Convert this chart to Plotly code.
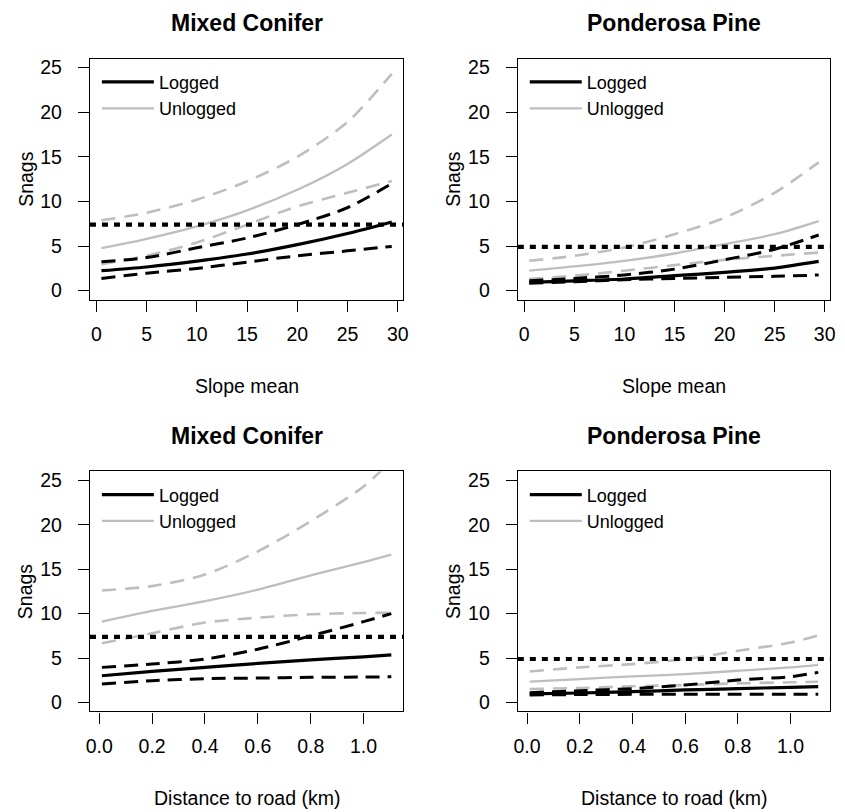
import plotly.graph_objects as go

# ---------------- data ----------------
slope_x = [0.5, 5, 10, 15, 20, 25, 29.4]
dist_x = [0.01, 0.2, 0.4, 0.6, 0.8, 1.0, 1.105]

# Mixed Conifer - slope
mc_slope_log_mean = [2.23, 2.65, 3.3, 4.1, 5.15, 6.4, 7.7]
mc_slope_log_lo = [1.37, 1.95, 2.49, 3.2, 3.9, 4.46, 4.95]
mc_slope_log_hi = [3.23, 3.7, 4.8, 5.9, 7.4, 9.3, 12.0]
mc_slope_unl_mean = [4.75, 5.8, 7.2, 9.0, 11.3, 14.2, 17.5]
mc_slope_unl_lo = [2.97, 3.9, 5.39, 7.4, 9.45, 10.96, 12.3]
mc_slope_unl_hi = [7.88, 8.73, 10.2, 12.26, 15.0, 18.9, 24.3]

# Ponderosa Pine - slope
pp_slope_log_mean = [0.93, 1.1, 1.3, 1.67, 2.04, 2.53, 3.27]
pp_slope_log_lo = [0.82, 1.0, 1.22, 1.37, 1.49, 1.6, 1.75]
pp_slope_log_hi = [1.1, 1.37, 1.75, 2.41, 3.45, 4.64, 6.24]
pp_slope_unl_mean = [2.23, 2.71, 3.34, 4.16, 5.2, 6.32, 7.8]
pp_slope_unl_lo = [1.3, 1.67, 2.23, 2.86, 3.45, 3.9, 4.27]
pp_slope_unl_hi = [3.34, 3.9, 4.83, 6.32, 8.17, 10.96, 14.38]

# Mixed Conifer - distance to road
mc_dist_log_mean = [3.02, 3.5, 3.96, 4.4, 4.81, 5.15, 5.37]
mc_dist_log_lo = [2.09, 2.46, 2.69, 2.76, 2.84, 2.87, 2.91]
mc_dist_log_hi = [3.96, 4.33, 4.89, 6.0, 7.5, 9.1, 10.0]
mc_dist_unl_mean = [9.1, 10.3, 11.4, 12.7, 14.3, 15.8, 16.64]
mc_dist_unl_lo = [6.68, 7.8, 9.0, 9.55, 9.93, 10.07, 10.11]
mc_dist_unl_hi = [12.6, 13.1, 14.4, 17.0, 20.4, 24.3, 27.2]

# Ponderosa Pine - distance to road
pp_dist_log_mean = [0.97, 1.08, 1.23, 1.42, 1.57, 1.72, 1.79]
pp_dist_log_lo = [0.86, 0.9, 0.93, 0.93, 0.93, 0.93, 0.93]
pp_dist_log_hi = [1.12, 1.34, 1.57, 1.98, 2.54, 2.91, 3.4]
pp_dist_unl_mean = [2.35, 2.65, 2.95, 3.2, 3.58, 3.96, 4.25]
pp_dist_unl_lo = [1.53, 1.64, 1.83, 1.98, 2.16, 2.28, 2.35]
pp_dist_unl_hi = [3.5, 3.96, 4.33, 4.89, 5.82, 6.75, 7.57]

mc_threshold = 7.4
pp_threshold = 4.9

panel_titles = ["Mixed Conifer", "Ponderosa Pine", "Mixed Conifer", "Ponderosa Pine"]
x_titles = ["Slope mean", "Slope mean", "Distance to road (km)", "Distance to road (km)"]
y_title = "Snags"
slope_ticks = [0, 5, 10, 15, 20, 25, 30]
dist_ticks = [0.0, 0.2, 0.4, 0.6, 0.8, 1.0]
y_ticks = [0, 5, 10, 15, 20, 25]
legend_names = ["Logged", "Unlogged"]

# ---------------- layout ----------------
W, H = 845, 812
FONT = "Liberation Sans, Arial, sans-serif"
BLACK = "#000000"
GRAY = "#BEBEBE"
TICK_SIZE = 19.5
LABEL_SIZE = 19.5

boxes = [  # left, right, top, bottom in px
    (87, 404, 57, 299),
    (520, 836, 57, 299),
    (87, 404, 471.7, 713),
    (520, 836, 471.7, 713),
]

panels = [
    (slope_x, mc_slope_log_mean, mc_slope_log_lo, mc_slope_log_hi,
     mc_slope_unl_mean, mc_slope_unl_lo, mc_slope_unl_hi, mc_threshold),
    (slope_x, pp_slope_log_mean, pp_slope_log_lo, pp_slope_log_hi,
     pp_slope_unl_mean, pp_slope_unl_lo, pp_slope_unl_hi, pp_threshold),
    (dist_x, mc_dist_log_mean, mc_dist_log_lo, mc_dist_log_hi,
     mc_dist_unl_mean, mc_dist_unl_lo, mc_dist_unl_hi, mc_threshold),
    (dist_x, pp_dist_log_mean, pp_dist_log_lo, pp_dist_log_hi,
     pp_dist_unl_mean, pp_dist_unl_lo, pp_dist_unl_hi, pp_threshold),
]

fig = go.Figure()
layout = {}
shapes = []
annotations = []


def px_x(v):
    return v / W


def px_y(v):
    return 1 - v / H


for i, (xs, lm, ll, lh, um, ul, uh, thr) in enumerate(panels):
    n = i + 1
    sfx = "" if n == 1 else str(n)
    xa, ya = "x" + sfx, "y" + sfx
    leg = "legend" + sfx
    L, R, T, B = boxes[i]

    def add(y, color, width, dash, name=None, show=False):
        fig.add_trace(go.Scatter(
            x=xs, y=y, mode="lines", xaxis=xa, yaxis=ya,
            line=dict(color=color, width=width, dash=dash, shape="spline", smoothing=0.8),
            name=name, showlegend=show, legend=leg, hoverinfo="skip"))

    add(ul, GRAY, 2.6, "14px,9px")
    add(uh, GRAY, 2.6, "14px,9px")
    add(ll, BLACK, 3.0, "14px,8px")
    add(lh, BLACK, 3.0, "14px,8px")
    add(lm, BLACK, 3.2, "solid", legend_names[0], True)
    add(um, GRAY, 2.3, "solid", legend_names[1], True)

    is_slope = i < 2
    xr = [-0.64, 30.54] if is_slope else [-0.035, 1.15]
    layout["xaxis" + sfx] = dict(
        domain=[px_x(L), px_x(R)], anchor=ya, range=xr,
        tickvals=slope_ticks if is_slope else dist_ticks,
        tickformat="d" if is_slope else ".1f",
        ticks="outside", ticklen=11, tickwidth=1.3, tickcolor=BLACK,
        showline=True, mirror=True, linewidth=1.3, linecolor=BLACK,
        showgrid=False, zeroline=False, ticklabelstandoff=6,
        tickfont=dict(family=FONT, size=TICK_SIZE, color=BLACK))
    layout["yaxis" + sfx] = dict(
        domain=[px_y(B), px_y(T)], anchor=xa, range=[-1, 26],
        tickvals=y_ticks, ticks="outside", ticklen=11, tickwidth=1.3, tickcolor=BLACK,
        showline=True, mirror=True, linewidth=1.3, linecolor=BLACK,
        showgrid=False, zeroline=False, ticklabelstandoff=12,
        tickfont=dict(family=FONT, size=TICK_SIZE, color=BLACK))

    shapes.append(dict(type="line", xref=xa + " domain", yref=ya, x0=0, x1=1,
                       y0=thr, y1=thr, layer="above",
                       line=dict(color=BLACK, width=4.2, dash="6px,6px")))

    layout[leg] = dict(
        x=px_x(L + 7), y=px_y(T + 5), xanchor="left", yanchor="top",
        bgcolor="rgba(0,0,0,0)", borderwidth=0, itemwidth=52,
        font=dict(family=FONT, size=18, color=BLACK), tracegroupgap=0)

    cx = (L + R) / 2
    annotations.append(dict(text=panel_titles[i], xref="paper", yref="paper",
                            x=px_x(cx), y=px_y(T - 36), xanchor="center", yanchor="middle",
                            showarrow=False,
                            font=dict(family=FONT, size=23, color=BLACK, weight="bold")))
    annotations.append(dict(text=x_titles[i], xref="paper", yref="paper",
                            x=px_x(cx), y=px_y(B + 87), xanchor="center", yanchor="middle",
                            showarrow=False, font=dict(family=FONT, size=LABEL_SIZE, color=BLACK)))
    annotations.append(dict(text=y_title, xref="paper", yref="paper", textangle=-90,
                            x=px_x(L - 65), y=px_y((T + B) / 2), xanchor="center", yanchor="middle",
                            showarrow=False, font=dict(family=FONT, size=LABEL_SIZE, color=BLACK)))

fig.update_layout(
    width=W, height=H, margin=dict(l=0, r=0, t=0, b=0),
    paper_bgcolor="white", plot_bgcolor="white",
    shapes=shapes, annotations=annotations, **layout)

fig.write_html("out.html", config={"displayModeBar": False},
               post_script="document.body.style.margin='0';document.body.style.overflow='hidden';")
